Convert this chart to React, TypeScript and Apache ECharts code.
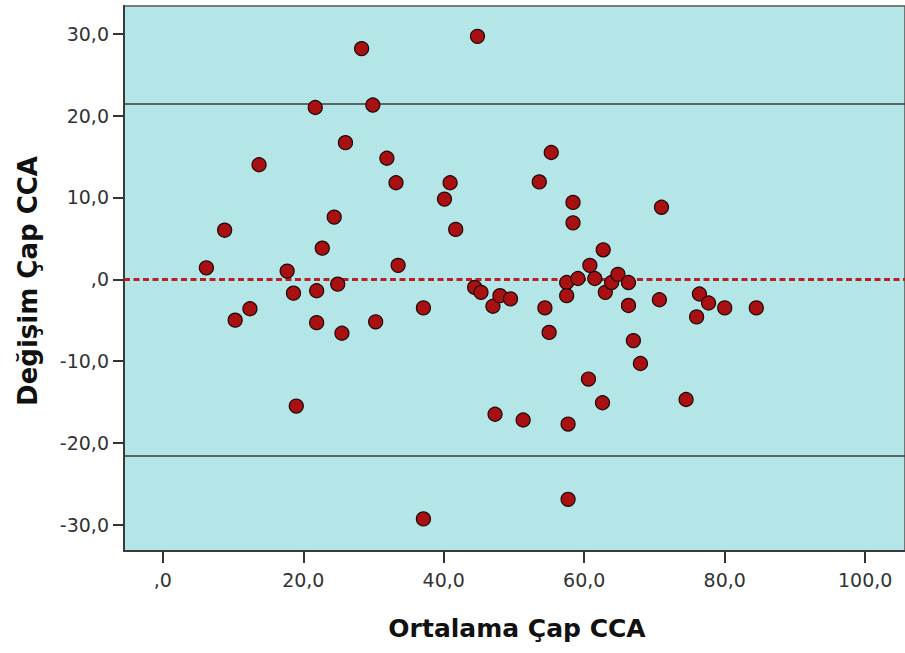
import React, { useEffect, useRef } from "react";
import * as echarts from "echarts";

// Bland–Altman plot: mean diameter vs. change in diameter (CCA)
const meanDiameter = [
  6.2, 8.8, 10.3, 12.4, 13.7, 17.7, 18.6, 19.0, 21.7, 21.9, 21.9, 22.7, 24.4, 24.9, 25.5, 26.0,
  28.3, 29.9, 30.3, 31.9, 33.2, 33.5, 37.1, 37.1, 40.1, 40.9, 41.7, 44.8, 44.4, 45.3, 47.0, 47.3,
  48.0, 49.5, 51.3, 53.6, 54.4, 55.0, 55.3, 57.5, 57.5, 57.7, 57.7, 58.4, 58.4, 59.1, 60.6, 60.8,
  61.5, 62.6, 62.7, 63.0, 63.9, 64.8, 66.3, 66.3, 67.0, 68.0, 70.7, 71.0, 74.5, 76.0, 76.4, 77.7,
  80.0, 84.5,
];
const diameterChange = [
  1.4, 6.0, -5.0, -3.6, 14.0, 1.0, -1.7, -15.5, 21.0, -1.4, -5.3, 3.8, 7.6, -0.6, -6.6, 16.7,
  28.2, 21.3, -5.2, 14.8, 11.8, 1.7, -3.5, -29.3, 9.8, 11.8, 6.1, 29.7, -1.0, -1.6, -3.3, -16.5,
  -2.0, -2.4, -17.2, 11.9, -3.5, -6.5, 15.5, -0.4, -2.0, -17.7, -26.9, 9.4, 6.9, 0.1, -12.2, 1.7,
  0.1, -15.1, 3.6, -1.6, -0.4, 0.6, -0.4, -3.2, -7.5, -10.3, -2.5, 8.8, -14.7, -4.6, -1.8, -2.9,
  -3.5, -3.5,
];

// Mean difference and limits of agreement
const meanDifference = 0;
const upperLimit = 21.4;
const lowerLimit = -21.6;

const xTicks = [0, 20, 40, 60, 80, 100];
const yTicks = [-30, -20, -10, 0, 10, 20, 30];

const xTitle = "Ortalama Çap CCA";
const yTitle = "Değişim Çap CCA";

const fmt = (v: number) => (v === 0 ? ",0" : v.toFixed(1).replace(".", ","));

export default function App() {
  const ref = useRef<HTMLDivElement>(null);

  useEffect(() => {
    if (!ref.current) return;
    const chart = echarts.init(ref.current, null, { renderer: "svg" });
    const points = meanDiameter.map((x, i) => [x, diameterChange[i]]);
    const tickFont = { fontFamily: "DejaVu Sans", fontSize: 19, color: "#333" };
    const limitStyle = { color: "#3c3c3c", width: 1.6, type: "solid" as const };

    chart.setOption({
      animation: false,
      grid: {
        left: 124,
        top: 6,
        right: -3,
        bottom: 102,
        show: true,
        backgroundColor: "#b4e6e7",
        borderColor: "#555",
        borderWidth: 1.5,
      },
      xAxis: {
        type: "value",
        min: -5.53,
        max: 105.67,
        splitLine: { show: false },
        axisLine: { show: true, onZero: false, lineStyle: { color: "#3a3a3a", width: 2 } },
        axisTick: { show: true, length: 12, customValues: xTicks, lineStyle: { color: "#333", width: 2 } },
        axisLabel: { ...tickFont, margin: 19, customValues: xTicks, formatter: fmt },
      },
      yAxis: {
        type: "value",
        min: -33.22,
        max: 33.41,
        splitLine: { show: false },
        axisLine: { show: true, onZero: false, lineStyle: { color: "#3a3a3a", width: 2 } },
        axisTick: { show: true, length: 11, customValues: yTicks, lineStyle: { color: "#333", width: 2 } },
        axisLabel: { ...tickFont, margin: 15, customValues: yTicks, formatter: fmt },
      },
      graphic: [
        {
          type: "text",
          x: 517,
          y: 628,
          style: {
            text: xTitle,
            font: 'bold 25px "DejaVu Sans"',
            fill: "#111",
            align: "center",
            verticalAlign: "middle",
          },
        },
        {
          type: "text",
          x: 28,
          y: 281,
          rotation: Math.PI / 2,
          style: {
            text: yTitle,
            font: 'bold 26px "DejaVu Sans"',
            fill: "#111",
            align: "center",
            verticalAlign: "middle",
          },
        },
      ],
      series: [
        {
          type: "scatter",
          data: points,
          symbol: "circle",
          symbolSize: 14,
          z: 3,
          itemStyle: { color: "#a81012", borderColor: "#1c0606", borderWidth: 1.2, opacity: 1 },
          markLine: {
            silent: true,
            symbol: "none",
            z: 1,
            label: { show: false },
            data: [
              { yAxis: upperLimit, lineStyle: limitStyle },
              { yAxis: lowerLimit, lineStyle: limitStyle },
              { yAxis: meanDifference, lineStyle: { color: "#b81f27", width: 3, type: [6, 3.5] } },
            ],
          },
        },
      ],
    });
    return () => chart.dispose();
  }, []);

  return (
    <div
      ref={ref}
      style={{ position: "fixed", left: 0, top: 0, width: 905, height: 653, background: "#fff" }}
    />
  );
}
